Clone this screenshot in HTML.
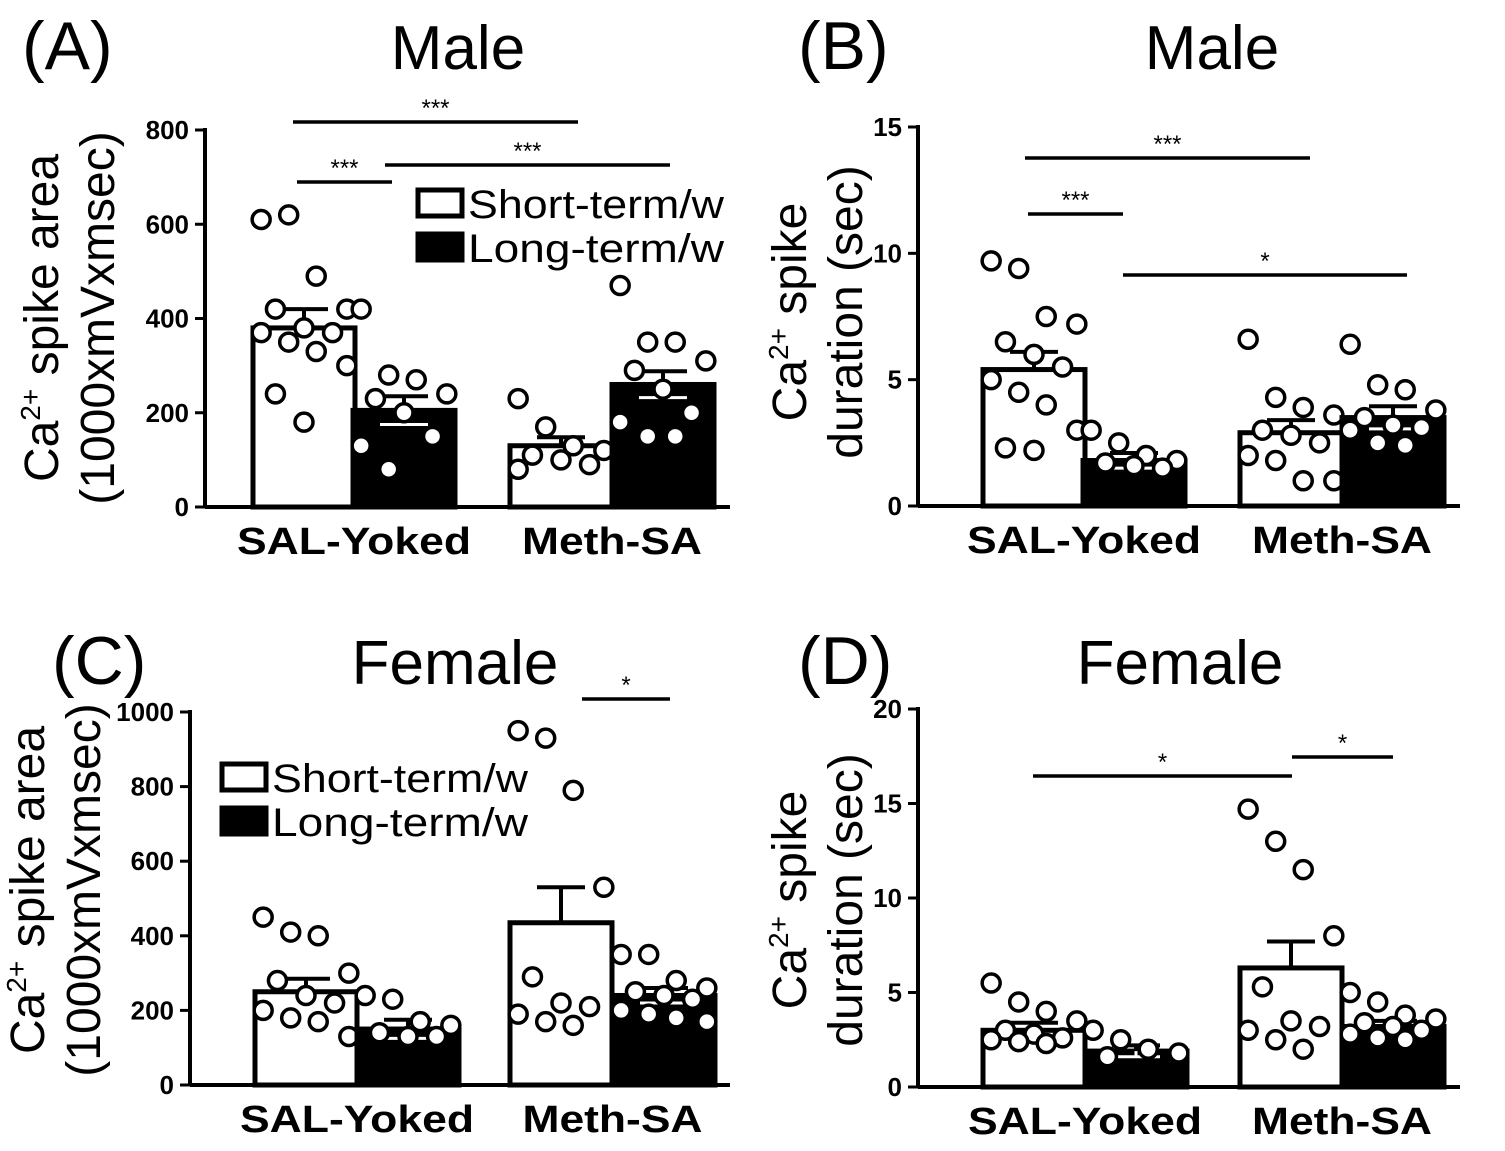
<!DOCTYPE html>
<html><head><meta charset="utf-8"><style>
html,body{margin:0;padding:0;background:#fff;}
svg{display:block;font-family:"Liberation Sans",Arial,sans-serif;}
</style></head><body>
<svg id="fig" width="1505" height="1151" viewBox="0 0 1505 1151"></svg>
<script>
// ---- data ----
const categories = ["SAL-Yoked","Meth-SA"];
const seriesNames = ["Short-term/w","Long-term/w"];
// Panel A: Male spike area
const aMeans = [[380,205],[130,260]];
const aSem = [[40,30],[18,28]];
const aDots = [
 [[610,620,490,420,420,380,370,370,350,330,300,240,180],[420,280,270,240,230,200,150,130,80]],
 [[230,170,130,120,110,100,90,80],[470,350,350,310,290,250,200,180,150,150]]
];
const aTicks = [0,200,400,600,800];
// Panel B: Male duration
const bMeans = [[5.4,1.8],[2.9,3.5]];
const bSem = [[0.7,0.3],[0.5,0.45]];
const bDots = [
 [[9.7,9.4,7.5,7.2,6.5,6.0,5.5,5.0,4.5,4.0,3.0,2.3,2.2],[3.0,2.5,2.0,1.8,1.7,1.6,1.5]],
 [[6.6,4.3,3.9,3.6,3.0,2.8,2.5,2.0,1.8,1.0,1.0],[6.4,4.8,4.6,3.8,3.5,3.2,3.1,3.0,2.5,2.4]]
];
const bTicks = [0,5,10,15];
// Panel C: Female spike area
const cMeans = [[250,150],[435,240]];
const cSem = [[35,25],[95,20]];
const cDots = [
 [[450,410,400,300,280,240,220,200,180,170,130],[240,230,170,160,140,130,130]],
 [[950,930,790,530,290,220,210,190,170,160],[350,350,280,260,250,240,230,200,190,180,170]]
];
const cTicks = [0,200,400,600,800,1000];
// Panel D: Female duration
const dMeans = [[3.0,1.9],[6.3,3.2]];
const dSem = [[0.4,0.3],[1.4,0.3]];
const dDots = [
 [[5.5,4.5,4.0,3.5,3.0,2.8,2.6,2.5,2.4,2.3],[3.0,2.5,2.0,1.8,1.6]],
 [[14.7,13.0,11.5,8.0,5.3,3.5,3.2,3.0,2.5,2.0],[5.0,4.5,3.8,3.6,3.4,3.2,3.0,2.8,2.6,2.5]]
];
const dTicks = [0,5,10,15,20];

const catWidths=[234,180];
const NS="http://www.w3.org/2000/svg";
const svg=document.getElementById('fig');
function mk(tag,attrs,parent){const e=document.createElementNS(NS,tag);for(const k in attrs)e.setAttribute(k,attrs[k]);(parent||svg).appendChild(e);return e;}
function txt(s,attrs,parent){const e=mk('text',attrs,parent);e.textContent=s;return e;}

function panel(cfg){
 const g=mk('g',{});
 
 
 const y=v=>cfg.y0-(v/cfg.max)*(cfg.y0-cfg.yTop);
 const ax=mk('line',{x1:cfg.ax,y1:y(cfg.max)-2,x2:cfg.ax,y2:cfg.y0,stroke:'#000','stroke-width':4},g);
 
 
 const xa=mk('line',{x1:cfg.ax,y1:cfg.y0,x2:cfg.xEnd,y2:cfg.y0,stroke:'#000','stroke-width':4},g);
 
 
 cfg.ticks.forEach(t=>{
  const tl=mk('line',{x1:cfg.ax-10,y1:y(t),x2:cfg.ax,y2:y(t),stroke:'#000','stroke-width':3},g);
  
  
  const tt=txt(String(t),{x:cfg.ax-16,y:y(t)+9,'text-anchor':'end','font-size':26,'font-weight':'bold'},g);
  
  
 });
 cfg.means.forEach((grp,gi)=>{
  grp.forEach((m,si)=>{
   const x0=cfg.barX[gi][si], w=cfg.barW;
   const fill=si===0?'#fff':'#000';
   const r=mk('rect',{x:x0,y:y(m),width:w,height:cfg.y0-y(m),fill:fill,stroke:'#000','stroke-width':5},g);
   
   
   const cx=x0+w/2, s=cfg.sem[gi][si];
   const eb=mk('path',{d:`M${cx},${y(m)} V${y(m+s)} M${cx-24},${y(m+s)} H${cx+24}`,stroke:'#000','stroke-width':4,fill:'none'},g);
   
   
   if(si===1){const eb2=mk('path',{d:`M${cx},${y(m)} V${y(m-s)} M${cx-24},${y(m-s)} H${cx+24}`,stroke:'#fff','stroke-width':3,fill:'none'},g);
    
    }
   const vals=cfg.dots[gi][si];
   vals.forEach((v,i)=>{
    const cols=[0.08,0.35,0.62,0.92,0.22,0.5,0.78];
    const cxp=x0+w*cols[i%cols.length];
    const c=mk('circle',{cx:cxp,cy:y(v),r:9,fill:'#fff',stroke:'#000','stroke-width':3.5},g);
    
    
   });
  });
  const cl=txt(categories[gi],{x:(cfg.barX[gi][0]+cfg.barX[gi][1]+cfg.barW)/2,y:cfg.y0+47,'text-anchor':'middle','font-size':38,'font-weight':'bold',textLength:catWidths[gi],lengthAdjust:'spacingAndGlyphs'},g);
  
  
 });
 cfg.sig.forEach(s=>{
  const l=mk('line',{x1:s[0],y1:s[2],x2:s[1],y2:s[2],stroke:'#000','stroke-width':3.5},g);
  
  
  const st=txt(s[3],{x:(s[0]+s[1])/2,y:s[2]-6,'text-anchor':'middle','font-size':24},g);
  
  
 });
 const pl=txt(cfg.letter,{x:cfg.lx,y:cfg.ly+4,'font-size':68},g);
 
 
 const ti=txt(cfg.title,{x:cfg.tx,y:cfg.ly+4,'text-anchor':'middle','font-size':62},g);
 
 
 const yl=mk('text',{transform:`translate(${cfg.ylx},${cfg.yly}) rotate(-90)`,'text-anchor':'middle','font-size':48},g);
 
 
 const t1=mk('tspan',{x:0,y:0},yl);
 t1.textContent='Ca';
 const t2=mk('tspan',{dy:-18,'font-size':28},yl);t2.textContent='2+';
 const t3=mk('tspan',{dy:18},yl);t3.textContent=cfg.ylab1;
 const t4=mk('tspan',{x:0,dy:56},yl);t4.textContent=cfg.ylab2;
 if(cfg.leg){
  const [lx,ly]=cfg.leg;
  seriesNames.forEach((nm,i)=>{
   const r=mk('rect',{x:lx,y:ly+i*44,width:44,height:26,fill:i?'#000':'#fff',stroke:'#000','stroke-width':5},g);
   
   
   const t=txt(nm,{x:lx+50,y:ly+i*44+28,'font-size':40,textLength:256,lengthAdjust:'spacingAndGlyphs'},g);
   
   
  });
 }
}

panel({name:'panel-a',letter:'(A)',title:'Male',lx:22,ly:65,tx:458,ax:205,xEnd:730,y0:507,yTop:130,max:800,ticks:aTicks,
 means:aMeans,sem:aSem,dots:aDots,barX:[[253,353],[510,612]],barW:102,
 sig:[[293,578,122,'***'],[297,392,182,'***'],[385,670,165,'***']],
 ylx:58,yly:318,ylab1:' spike area',ylab2:'(1000xmVxmsec)',leg:[418,190]});
panel({name:'panel-b',letter:'(B)',title:'Male',lx:798,ly:65,tx:1212,ax:918,xEnd:1460,y0:506,yTop:127,max:15,ticks:bTicks,
 means:bMeans,sem:bSem,dots:bDots,barX:[[983,1083],[1240,1342]],barW:102,
 sig:[[1025,1310,158,'***'],[1028,1123,214,'***'],[1123,1407,275,'*']],
 ylx:806,yly:312,ylab1:' spike',ylab2:'duration (sec)'});
panel({name:'panel-c',letter:'(C)',title:'Female',lx:52,ly:680,tx:455,ax:190,xEnd:730,y0:1085,yTop:712,max:1000,ticks:cTicks,
 means:cMeans,sem:cSem,dots:cDots,barX:[[255,357],[510,613]],barW:102,
 sig:[[582,670,699,'*']],
 ylx:44,yly:890,ylab1:' spike area',ylab2:'(1000xmVxmsec)',leg:[222,764]});
panel({name:'panel-d',letter:'(D)',title:'Female',lx:798,ly:680,tx:1180,ax:918,xEnd:1460,y0:1087,yTop:709,max:20,ticks:dTicks,
 means:dMeans,sem:dSem,dots:dDots,barX:[[983,1085],[1240,1342]],barW:102,
 sig:[[1033,1292,776,'*'],[1292,1393,757,'*']],
 ylx:806,yly:900,ylab1:' spike',ylab2:'duration (sec)'});
</script>
</body></html>
